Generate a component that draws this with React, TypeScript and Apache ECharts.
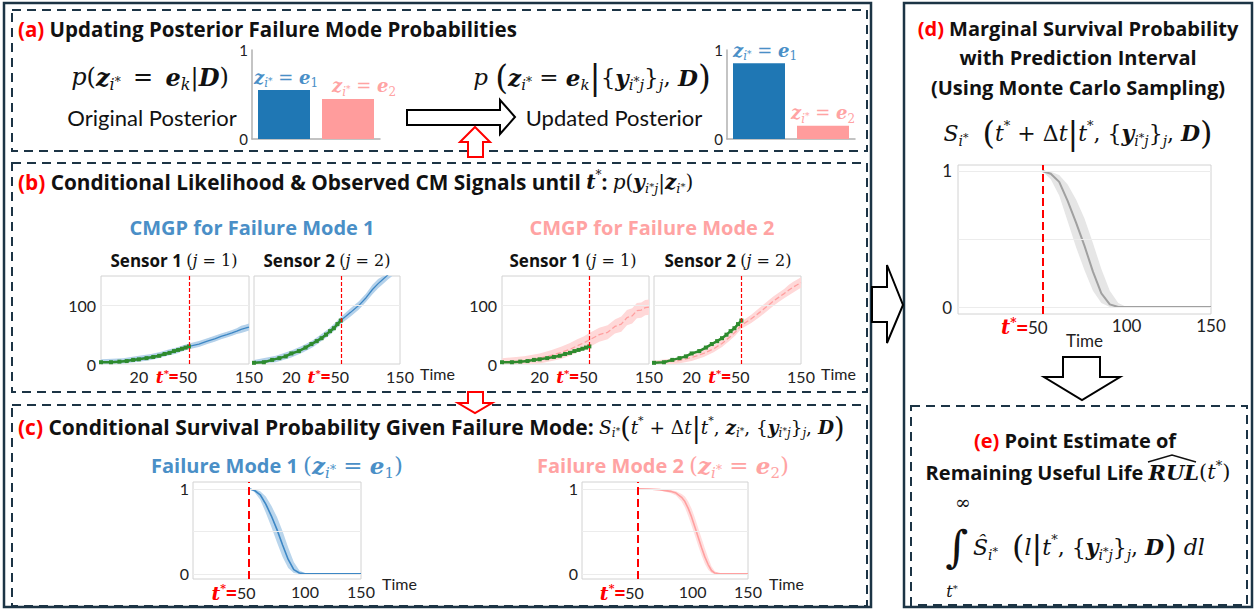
import React, { useEffect, useRef } from 'react';
import * as echarts from 'echarts';

// ---------------- data ----------------
const BAR_CATEGORIES = ['Failure Mode 1', 'Failure Mode 2'];
const ORIGINAL_POSTERIOR = [0.55, 0.45];
const UPDATED_POSTERIOR = [0.85, 0.15];

// observed CM signals until t* = 50
const T_OBS = [10, 12, 14, 16, 18, 20, 23, 26, 29, 32, 35, 38, 41, 44, 47, 50];
const OBS_SENSOR1 = [3, 3, 4, 5, 7, 8, 10, 12, 14, 17, 19, 22, 24, 26, 28, 30];
const OBS_SENSOR2 = [2, 3, 7, 10, 13, 18, 22, 28, 34, 39, 44, 50, 56, 61, 68, 74];

// CMGP predictions
const T_PRED = [10, 15, 20, 25, 30, 35, 40, 45, 50, 60, 70, 80, 90, 100, 110, 120, 130, 140, 150];
const M1_S1_MEAN = [3, 5, 9, 12, 16, 20, 23, 27, 30, 34, 39, 43, 47, 50, 53, 56, 59, 61, 63];
const M1_S1_LO = [0, 1, 4, 7, 11, 15, 18, 22, 25, 29, 34, 38, 42, 45, 48, 51, 53, 55, 57];
const M1_S1_HI = [8, 10, 14, 17, 21, 25, 28, 32, 35, 39, 44, 48, 52, 55, 58, 61, 65, 67, 69];
const M1_S2_MEAN = [2, 8, 17, 26, 35, 45, 54, 64, 74, 88, 100, 113, 127, 137, 145, 152, 160, 167, 175];
const M1_S2_LO = [0, 3, 11, 20, 29, 39, 48, 58, 68, 81, 93, 106, 119, 129, 137, 144, 151, 158, 166];
const M1_S2_HI = [7, 14, 23, 32, 41, 51, 60, 70, 80, 95, 107, 120, 135, 145, 153, 160, 169, 176, 184];
const M2_S1_MEAN = [3, 6, 10, 15, 20, 25, 31, 36, 41, 50, 54, 64, 68, 79, 82, 91, 92, 96, 97];
const M2_S1_LO = [0, 0, 1, 5, 9, 14, 20, 25, 29, 38, 42, 52, 55, 66, 69, 78, 79, 83, 84];
const M2_S1_HI = [10, 13, 18, 24, 30, 36, 42, 47, 53, 62, 66, 76, 81, 92, 95, 104, 105, 109, 110];
const M2_S2_MEAN = [2, 5, 11, 18, 26, 35, 45, 55, 66, 77, 88, 98, 107, 114, 120, 126, 131, 135, 139];
const M2_S2_LO = [0, 0, 5, 12, 20, 29, 39, 49, 60, 70, 80, 90, 99, 106, 112, 117, 122, 126, 130];
const M2_S2_HI = [6, 10, 17, 24, 32, 41, 51, 61, 72, 84, 96, 106, 115, 122, 128, 135, 140, 144, 148];

// conditional survival, failure mode 1
const T_SURV1 = [50, 55, 60, 65, 70, 75, 80, 85, 90, 95, 100, 110, 120, 130, 140, 150];
const M1_SURV_MEAN = [1, 0.98, 0.93, 0.82, 0.68, 0.52, 0.34, 0.17, 0.05, 0.01, 0, 0, 0, 0, 0, 0];
const M1_SURV_LO = [1, 0.96, 0.87, 0.72, 0.55, 0.37, 0.2, 0.07, 0.01, 0, 0, 0, 0, 0, 0, 0];
const M1_SURV_HI = [1, 0.995, 0.97, 0.91, 0.8, 0.67, 0.5, 0.31, 0.14, 0.04, 0.01, 0, 0, 0, 0, 0];

// conditional survival, failure mode 2
const T_SURV2 = [50, 60, 70, 80, 85, 90, 93, 96, 99, 102, 105, 108, 111, 114, 117, 120, 125, 130, 140, 150];
const M2_SURV_MEAN = [1, 0.997, 0.99, 0.97, 0.95, 0.9, 0.85, 0.77, 0.67, 0.55, 0.43, 0.31, 0.2, 0.11, 0.04, 0.01, 0, 0, 0, 0];
const M2_SURV_LO = [1, 0.99, 0.98, 0.95, 0.92, 0.85, 0.78, 0.68, 0.57, 0.45, 0.33, 0.22, 0.12, 0.05, 0.01, 0, 0, 0, 0, 0];
const M2_SURV_HI = [1, 1, 0.995, 0.985, 0.97, 0.94, 0.91, 0.85, 0.77, 0.66, 0.54, 0.42, 0.3, 0.19, 0.09, 0.03, 0, 0, 0, 0];

// marginal survival
const T_MARG = [50, 55, 60, 65, 70, 75, 80, 85, 90, 95, 100, 110, 120, 130, 140, 150];
const MARG_MEAN = [1, 0.98, 0.92, 0.78, 0.62, 0.45, 0.26, 0.1, 0.02, 0, 0, 0, 0, 0, 0, 0];
const MARG_LO = [1, 0.94, 0.82, 0.63, 0.44, 0.27, 0.12, 0.03, 0, 0, 0, 0, 0, 0, 0, 0];
const MARG_HI = [1, 0.995, 0.97, 0.9, 0.79, 0.65, 0.47, 0.28, 0.12, 0.03, 0, 0, 0, 0, 0, 0];

const T_STAR = 50;

// ---------------- styles ----------------
const SERIF = 'DejaVu Serif';
const SANS = 'Lato';
const SANS_B = 'Open Sans';
const BLUE_TXT = '#4a8fc7';
const PINK_TXT = '#ffa3a3';
const BLUE_BAR = '#1f77b4';
const PINK_BAR = '#ff9c9c';
const RED = '#ff0000';
const FRAME = '#1c3445';

const GRIDS = [
  { left: 252, top: 50, width: 128, height: 89 },
  { left: 727, top: 50, width: 128, height: 89 },
  { left: 101, top: 276, width: 148, height: 88 },
  { left: 254, top: 276, width: 146, height: 88 },
  { left: 502, top: 276, width: 147, height: 88 },
  { left: 654, top: 276, width: 147, height: 88 },
  { left: 193, top: 482, width: 168, height: 97 },
  { left: 582, top: 482, width: 166, height: 97 },
  { left: 958, top: 165, width: 253, height: 149 },
];

function mathRich(size: number, color: string, headSize: number, L: number) {
  const sub = Math.round(size * 0.65);
  const star = Math.round(size * 0.5);
  const sup = Math.round(size * 0.6);
  return {
    it: { fontFamily: SERIF, fontStyle: 'italic', fontSize: size, fill: color, lineHeight: L },
    bi: { fontFamily: SERIF, fontStyle: 'italic', fontWeight: 'bold', fontSize: size, fill: color, lineHeight: L },
    tb: { fontFamily: SERIF, fontStyle: 'italic', fontWeight: 'bold', fontSize: size, fill: color, lineHeight: L },
    up: { fontFamily: SERIF, fontSize: size, fill: color, lineHeight: L },
    P: { fontFamily: SERIF, fontSize: Math.round(size * 1.45), fill: color, lineHeight: L },
    sb: { fontFamily: SERIF, fontStyle: 'italic', fontSize: sub, fill: color, lineHeight: sub, height: sub, verticalAlign: 'bottom' },
    sn: { fontFamily: SERIF, fontSize: sub, fill: color, lineHeight: sub, height: sub, verticalAlign: 'bottom' },
    ss: { fontFamily: SERIF, fontSize: star, fill: color, lineHeight: star, height: Math.round(size * 0.9), verticalAlign: 'bottom' },
    sp: { fontFamily: SERIF, fontSize: sup, fill: color, lineHeight: sup, height: sup, verticalAlign: 'top' },
    hb: { fontFamily: SANS_B, fontWeight: 'bold', fontSize: headSize, fill: color, lineHeight: L },
    hr: { fontFamily: SANS, fontSize: headSize, fill: color, lineHeight: L },
    red: { fontFamily: SANS_B, fontWeight: 'bold', fontSize: headSize, fill: RED, lineHeight: L },
  };
}

function txt(x: number, y: number, text: string, size: number, color: string, align = 'left', headSize = size, lf = 1.3) {
  const L = Math.round(size * lf);
  return {
    type: 'text',
    x,
    y,
    z: 100,
    silent: true,
    style: {
      text,
      rich: mathRich(size, color, headSize, L),
      align,
      verticalAlign: 'middle',
      fontFamily: SERIF,
      fontSize: size,
      fill: color,
      lineHeight: L,
    },
  };
}

const HEAD_A = '{red|(a)}{hb| Updating Posterior Failure Mode Probabilities}';
const FORM_PRIOR = '{it|p}{up|(}{bi|z}{sb|i}{ss|*}{up| \u2009=\u2009 }{bi|e}{sb|k}{up||}{bi|D}{up|)}';
const FORM_UPD = '{it|p}{up| }{P|(}{bi|z}{sb|i}{ss|*}{up| = }{bi|e}{sb|k}{P||}{up|{}{bi|y}{sb|i}{ss|*}{sb|j}}{sb|j}{up|, }{bi|D}{P|)}';
const HEAD_B = '{red|(b)}{hb| Conditional Likelihood & Observed CM Signals until }{tb|t}{sp|*}{hb|: }{it|p}{up|(}{bi|y}{sb|i}{ss|*}{sb|j}{up||}{bi|z}{sb|i}{ss|*}{up|)}';
const HEAD_C = '{red|(c)}{hb| Conditional Survival Probability Given Failure Mode: }{it|S}{sb|i}{ss|*}{P|(}{it|t}{sp|*}{up| + Δ}{it|t}{P||}{it|t}{sp|*}{up|, }{bi|z}{sb|i}{ss|*}{up|, {}{bi|y}{sb|i}{ss|*}{sb|j}}{sb|j}{up|, }{bi|D}{P|)}';
const FORM_D = '{it|S}{sb|i}{ss|*}{up|  }{P|(}{it|t}{sp|*}{up| + Δ}{it|t}{P||}{it|t}{sp|*}{up|, {}{bi|y}{sb|i}{ss|*}{sb|j}}{sb|j}{up|, }{bi|D}{P|)}';
const FORM_E = '{it|Ŝ}{sb|i}{ss|*}{up|  }{P|(}{it|l}{P||}{it|t}{sp|*}{up|, {}{bi|y}{sb|i}{ss|*}{sb|j}}{sb|j}{up|, }{bi|D}{P|)}{it| dl}';

function tRich(sizeT: number, sizeN: number, pad: number) {
  return {
    ts: { color: RED, fontFamily: SERIF, fontStyle: 'italic', fontWeight: 'bold', fontSize: sizeT },
    tp: { color: RED, fontFamily: SERIF, fontWeight: 'bold', fontSize: Math.round(sizeT * 0.6), height: Math.round(sizeT * 0.6), verticalAlign: 'top' },
    te: { color: RED, fontFamily: SANS_B, fontWeight: 'bold', fontSize: sizeT },
    n: { color: '#222', fontFamily: SANS, fontSize: sizeN },
    pad: { width: pad, fontSize: sizeN },
  };
}
const fmtT = (v: number) => {
  const r = Math.round(v);
  if (r === 0) return '';
  return r === T_STAR ? '{ts|t}{tp|*}{te|=}{n|' + r + '}{pad| }' : '{n|' + r + '}';
};

const vline = (w: number, dash: any) => ({ xAxis: T_STAR, lineStyle: { color: '#ff0000', type: dash, width: w, opacity: 1 } });
const hline = (y: number) => ({ yAxis: y, lineStyle: { color: '#ececec', type: 'solid', width: 1 } });
const markLines = (data: any[]) => ({ silent: true, symbol: ['none', 'none'], label: { show: false }, data });

// prediction band drawn as a polygon through the axes' own coordinate conversion
function band(gi: number, xs: number[], lo: number[], hi: number[], color: string) {
  return {
    type: 'custom',
    coordinateSystem: 'cartesian2d',
    xAxisIndex: gi,
    yAxisIndex: gi,
    silent: true,
    clip: true,
    z: 1,
    data: [[xs[0], lo[0]]],
    renderItem: (params: any, api: any) => {
      const cs = params.coordSys;
      const clampY = (p: number[]) => [p[0], Math.max(cs.y, Math.min(cs.y + cs.height, p[1]))];
      const up = xs.map((x, i) => clampY(api.coord([x, hi[i]])));
      const dn = xs.map((x, i) => clampY(api.coord([x, lo[i]]))).reverse();
      return { type: 'polygon', shape: { points: up.concat(dn) }, style: { fill: color } };
    },
  };
}
function meanLine(gi: number, xs: number[], ys: number[], color: string, width: number, dashed: boolean, ml: any[]) {
  return { type: 'line', xAxisIndex: gi, yAxisIndex: gi, z: 3, symbol: 'none', silent: true, lineStyle: { color, width, type: dashed ? 'dashed' : 'solid' }, data: xs.map((x, i) => [x, ys[i]]), markLine: markLines(ml) };
}

function buildOption() {
  const grid = GRIDS.map((g, i) => ({ ...g, show: i >= 2, borderColor: '#d2d2d2', borderWidth: 1, containLabel: false, outerBoundsMode: 'none' }));

  const barRich: any = {};
  ([['B', BLUE_TXT], ['P', PINK_TXT]] as any[]).forEach(([k, c]) => {
    barRich['z' + k] = { color: c, fontFamily: SERIF, fontStyle: 'italic', fontWeight: 'bold', fontSize: 18, lineHeight: 24 };
    barRich['q' + k] = { color: c, fontFamily: SERIF, fontSize: 18, lineHeight: 24 };
    barRich['s' + k] = { color: c, fontFamily: SERIF, fontStyle: 'italic', fontSize: 12, lineHeight: 12, height: 12, verticalAlign: 'bottom' };
    barRich['n' + k] = { color: c, fontFamily: SERIF, fontSize: 12, lineHeight: 12, height: 12, verticalAlign: 'bottom' };
    barRich['t' + k] = { color: c, fontFamily: SERIF, fontSize: 9, lineHeight: 9, height: 17, verticalAlign: 'bottom' };
  });
  const barLabel = {
    show: true,
    position: 'top',
    distance: 1,
    rich: barRich,
    formatter: (p: any) => {
      const k = p.dataIndex === 0 ? 'B' : 'P';
      return `{z${k}|z}{s${k}|i}{t${k}|*}{q${k}| = }{z${k}|e}{n${k}|${p.dataIndex + 1}}`;
    },
  };
  const LABEL_SHIFT_A1 = [[2, 0], [16, 0]];
  const LABEL_SHIFT_A2 = [[6, 0], [0, 0]];

  const xAxis: any[] = [];
  const yAxis: any[] = [];
  const labelBase = { color: '#222', fontFamily: SANS };

  // (a) bars
  [0, 1].forEach((gi) => {
    xAxis.push({ type: 'category', gridIndex: gi, data: BAR_CATEGORIES, axisLine: { lineStyle: { color: '#b0b0b0', width: 1.5 } }, axisTick: { show: false }, axisLabel: { show: false } });
    yAxis.push({ type: 'value', gridIndex: gi, min: 0, max: 1, interval: 1, axisLine: { show: true, lineStyle: { color: '#b0b0b0', width: 1.5 } }, axisTick: { show: false }, splitLine: { show: false }, axisLabel: { ...labelBase, fontSize: 15, margin: 4, lineHeight: 15 } });
  });
  // (b) CMGP panels
  [2, 3, 4, 5].forEach((gi) => {
    const named = gi === 3 || gi === 5;
    xAxis.push({
      type: 'log', logBase: 10, gridIndex: gi, min: 10, max: 150,
      axisLine: { show: false }, axisTick: { show: false }, splitLine: { show: false }, minorTick: { show: false }, minorSplitLine: { show: false },
      axisLabel: { ...labelBase, fontSize: 16, margin: 4, customValues: [20, 50, 150], formatter: fmtT, rich: tRich(17, 16, 25), showMinLabel: true, showMaxLabel: true, hideOverlap: false },
      name: named ? 'Time' : '', nameLocation: 'end', nameGap: 20,
      nameTextStyle: { ...labelBase, fontSize: 16, verticalAlign: 'top', padding: [1, 0, 0, 0] },
    });
    yAxis.push({
      type: 'value', gridIndex: gi, min: 0, max: 150, interval: 50,
      axisLine: { show: false }, axisTick: { show: false }, splitLine: { show: false },
      axisLabel: { ...labelBase, show: gi === 2 || gi === 4, fontSize: 16, margin: 5, formatter: (v: number) => (v === 0 || v === 100 ? String(v) : '') },
    });
  });
  // (c) and (d) survival panels
  [6, 7, 8].forEach((gi) => {
    const isD = gi === 8;
    xAxis.push({
      type: 'value', gridIndex: gi, min: 0, max: 150, interval: 50,
      axisLine: { show: false }, axisTick: { show: false }, splitLine: { show: false },
      axisLabel: { ...labelBase, fontSize: isD ? 17 : 16, margin: isD ? 3 : 4, formatter: fmtT, rich: isD ? tRich(20, 17, 36) : tRich(19, 16, 31), showMinLabel: true, showMaxLabel: true, hideOverlap: false },
      name: 'Time', nameLocation: isD ? 'middle' : 'end', nameGap: isD ? 18 : 21, nameMoveOverlap: false,
      nameTextStyle: isD ? { ...labelBase, fontSize: 17 } : { ...labelBase, fontSize: 16, verticalAlign: 'top', padding: [2, 0, 0, 0] },
    });
    yAxis.push({
      type: 'value', gridIndex: gi, min: isD ? -0.051 : -0.06, max: isD ? 1.044 : 1.08,
      axisLine: { show: false }, axisTick: { show: false }, splitLine: { show: false },
      axisLabel: { ...labelBase, fontSize: isD ? 17 : 16, margin: isD ? 6 : 4, formatter: (v: number) => (Math.abs(v) < 1e-9 ? '0' : Math.abs(v - 1) < 1e-9 ? '1' : '') },
    });
  });

  const series: any[] = [];
  // (a)
  series.push({
    type: 'bar', xAxisIndex: 0, yAxisIndex: 0, barWidth: 52, silent: true,
    data: ORIGINAL_POSTERIOR.map((v, i) => ({ value: v, itemStyle: { color: i === 0 ? BLUE_BAR : PINK_BAR }, label: { offset: LABEL_SHIFT_A1[i] } })),
    label: barLabel,
  });
  series.push({
    type: 'bar', xAxisIndex: 1, yAxisIndex: 1, barWidth: 52, silent: true,
    data: UPDATED_POSTERIOR.map((v, i) => ({ value: v, itemStyle: { color: i === 0 ? BLUE_BAR : PINK_BAR }, label: { offset: LABEL_SHIFT_A2[i] } })),
    label: barLabel,
  });

  // (b)
  const bPanels = [
    { gi: 2, lo: M1_S1_LO, hi: M1_S1_HI, mean: M1_S1_MEAN, obs: OBS_SENSOR1, band: '#b4d1ea', line: '#3d87c5', dashed: false },
    { gi: 3, lo: M1_S2_LO, hi: M1_S2_HI, mean: M1_S2_MEAN, obs: OBS_SENSOR2, band: '#b4d1ea', line: '#3d87c5', dashed: false },
    { gi: 4, lo: M2_S1_LO, hi: M2_S1_HI, mean: M2_S1_MEAN, obs: OBS_SENSOR1, band: '#ffd8d8', line: '#ff9f9f', dashed: true },
    { gi: 5, lo: M2_S2_LO, hi: M2_S2_HI, mean: M2_S2_MEAN, obs: OBS_SENSOR2, band: '#ffd8d8', line: '#ff9f9f', dashed: true },
  ];
  bPanels.forEach((p) => {
    series.push(band(p.gi, T_PRED, p.lo, p.hi, p.band));
    series.push(meanLine(p.gi, T_PRED, p.mean, p.line, 1.3, p.dashed, [hline(100), vline(1.2, [4, 2])]));
    series.push({
      type: 'line', xAxisIndex: p.gi, yAxisIndex: p.gi, silent: true, z: 4,
      symbol: 'rect', symbolSize: 4, itemStyle: { color: '#2e8b2e' },
      lineStyle: { color: '#2e8b2e', width: 2.5 },
      data: T_OBS.map((t, i) => [t, p.obs[i]]),
    });
  });

  // (c)
  series.push(band(6, T_SURV1, M1_SURV_LO, M1_SURV_HI, '#b9d5ec'));
  series.push(meanLine(6, T_SURV1, M1_SURV_MEAN, '#3d87c5', 1.6, false, [hline(0), hline(0.5), hline(1), vline(2, 'dashed')]));
  series.push(band(7, T_SURV2, M2_SURV_LO, M2_SURV_HI, '#ffdede'));
  series.push(meanLine(7, T_SURV2, M2_SURV_MEAN, '#ffa0a0', 1.6, false, [hline(0), hline(0.5), hline(1), vline(2, 'dashed')]));
  // (d)
  series.push(band(8, T_MARG, MARG_LO, MARG_HI, '#e6e6e6'));
  series.push(meanLine(8, T_MARG, MARG_MEAN, '#a0a0a0', 2, false, [hline(0), hline(0.5), hline(1), vline(2, 'dashed')]));

  const rect = (x: number, y: number, w: number, h: number, dashed: boolean) => ({
    type: 'rect', z: 10, silent: true,
    shape: { x, y, width: w, height: h },
    style: { fill: 'transparent', stroke: FRAME, lineWidth: dashed ? 2 : 2.5, lineDash: dashed ? [9, 6] : null },
  });
  const poly = (pts: number[][], stroke: string) => ({
    type: 'polygon', z: 60, silent: true,
    shape: { points: pts },
    style: { fill: '#ffffff', stroke, lineWidth: 2 },
  });

  const elements: any[] = [
    rect(4, 3, 867, 604, false),
    rect(904, 3, 348, 604, false),
    rect(12, 10, 855, 141, true),
    rect(12, 163, 855, 229, true),
    rect(12, 405, 855, 201, true),
    rect(911, 406, 336, 199, true),
    poly([[407, 110], [500, 110], [500, 100], [515, 117], [500, 134], [500, 125], [407, 125]], '#000'),
    poly([[475, 127], [490, 142], [483, 142], [483, 157], [468, 157], [468, 142], [460, 142]], RED),
    poly([[468, 392], [483, 392], [483, 403], [492, 403], [475, 413], [458, 403], [468, 403]], RED),
    poly([[872, 287], [887, 287], [887, 265], [903, 305], [887, 343], [887, 322], [872, 322]], '#000'),
    poly([[1063, 357], [1100, 357], [1100, 377], [1120, 377], [1082, 400], [1044, 377], [1063, 377]], '#000'),
    { type: 'polyline', z: 100, silent: true, shape: { points: [[1148, 462], [1172, 455], [1196, 462]] }, style: { stroke: '#111', lineWidth: 1.5, fill: null } },

    txt(18, 29, HEAD_A, 20, '#111', 'left', 20.5, 0.9),
    txt(150, 77, FORM_PRIOR, 24, '#111', 'center'),
    txt(152, 117, '{hr|Original Posterior}', 22, '#111', 'center', 22, 1.1),
    txt(592, 77, FORM_UPD, 23, '#111', 'center'),
    txt(614, 117, '{hr|Updated Posterior}', 22, '#111', 'center', 22, 1.1),

    txt(18, 182, HEAD_B, 20, '#111', 'left', 20.8),
    txt(252, 227, '{hb|CMGP for Failure Mode 1}', 20, BLUE_TXT, 'center', 20, 1.1),
    txt(652, 227, '{hb|CMGP for Failure Mode 2}', 20, PINK_TXT, 'center', 20, 1.1),
    txt(174, 260, '{hb|Sensor 1 }{up|(}{it|j}{up| = 1)}', 16, '#111', 'center', 17),
    txt(327, 260, '{hb|Sensor 2 }{up|(}{it|j}{up| = 2)}', 16, '#111', 'center', 17),
    txt(573, 260, '{hb|Sensor 1 }{up|(}{it|j}{up| = 1)}', 16, '#111', 'center', 17),
    txt(728, 260, '{hb|Sensor 2 }{up|(}{it|j}{up| = 2)}', 16, '#111', 'center', 17),

    txt(18, 427, HEAD_C, 18.5, '#111', 'left', 21),
    txt(277, 465, '{hb|Failure Mode 1 }{up|(}{bi|z}{sb|i}{ss|*}{up| = }{bi|e}{sn|1}{up|)}', 23, BLUE_TXT, 'center', 20),
    txt(663, 465, '{hb|Failure Mode 2 }{up|(}{bi|z}{sb|i}{ss|*}{up| = }{bi|e}{sn|2}{up|)}', 23, PINK_TXT, 'center', 20),

    txt(1078, 28, '{red|(d)}{hb| Marginal Survival Probability}', 20, '#111', 'center', 20, 1.1),
    txt(1078, 57, '{hb|with Prediction Interval}', 20, '#111', 'center', 20, 1.1),
    txt(1078, 87, '{hb|(Using Monte Carlo Sampling)}', 20, '#111', 'center', 20, 1.1),
    txt(1078, 133, FORM_D, 22, '#111', 'center'),

    txt(1075, 440, '{red|(e)}{hb| Point Estimate of}', 20, '#111', 'center', 20, 1.1),
    txt(1078, 472, '{hb|Remaining Useful Life }{bi|RUL}{up|(}{it|t}{sp|*}{up|)}', 21, '#111', 'center', 20),
    txt(957, 546, '{up|∫}', 44, '#111', 'center', 44, 0.8),
    txt(963, 502, '{up|∞}', 19, '#111', 'center', 19, 1.0),
    txt(952, 591, '{it|t}{sp|*}', 16, '#111', 'center', 16, 1.0),
    txt(973, 547, FORM_E, 22, '#111', 'left'),
  ];

  return {
    animation: false,
    backgroundColor: '#ffffff',
    grid,
    xAxis,
    yAxis,
    series,
    graphic: { elements },
  };
}

export default function App() {
  const ref = useRef<HTMLDivElement>(null);
  useEffect(() => {
    document.body.style.margin = '0';
    const chart = echarts.init(ref.current as HTMLDivElement, null, { renderer: 'svg' });
    chart.setOption(buildOption() as any);
    return () => chart.dispose();
  }, []);
  return <div ref={ref} style={{ width: 1257, height: 609 }} />;
}
